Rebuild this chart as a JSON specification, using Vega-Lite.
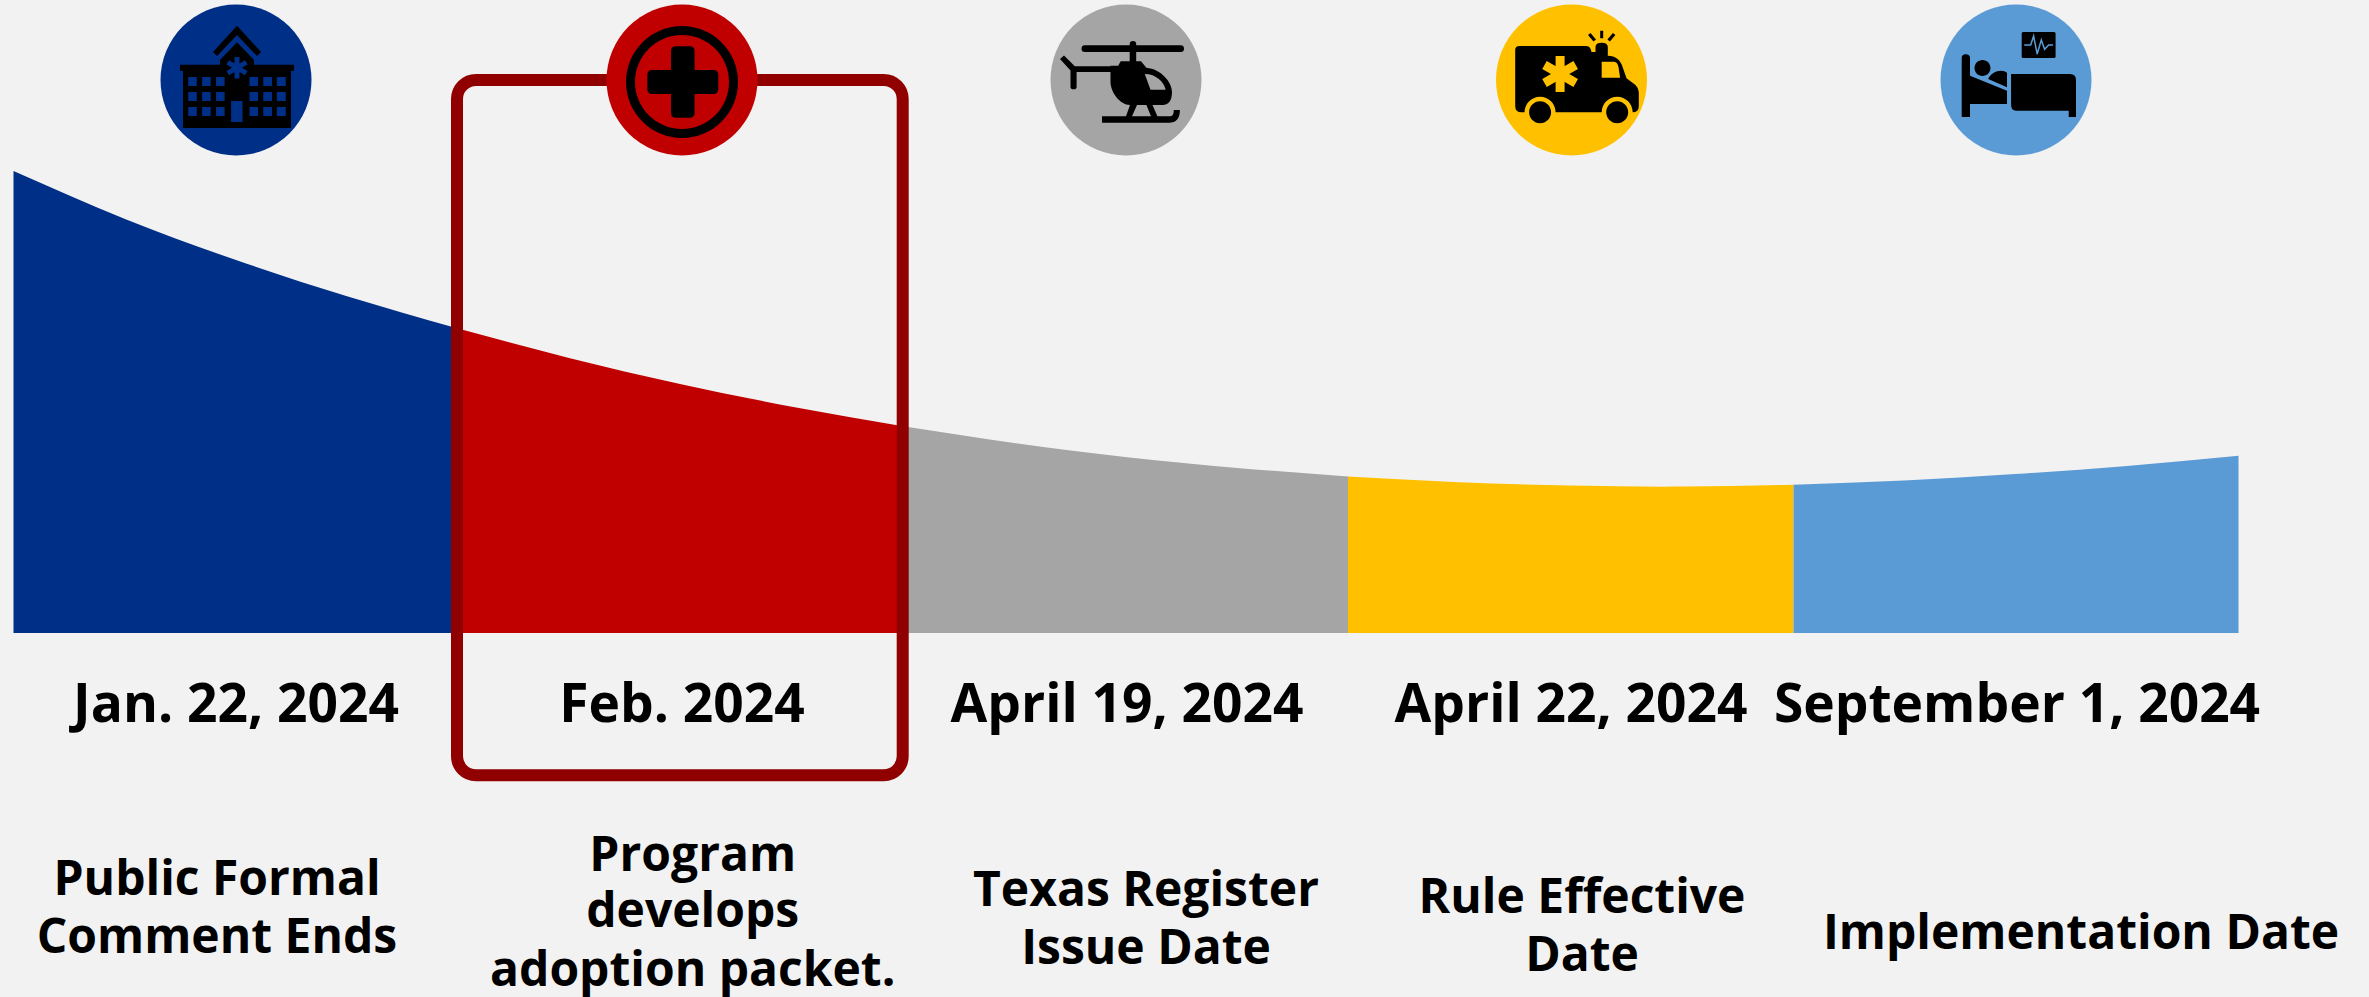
{
"$schema":"https://vega.github.io/schema/vega-lite/v6.json",
"width":2369,"height":997,"padding":0,"autosize":{"type":"none"},
"background":"#f2f2f2",
"view":{"stroke":null},
"config":{"axis":{"domain":false,"grid":false,"ticks":false,"labels":false,"title":null}},
"datasets":{
"curve":[
{"tone":"navy","px":13.5,"py":171},{"tone":"navy","px":125,"py":219},{"tone":"navy","px":236,"py":260},{"tone":"navy","px":347,"py":296.2},{"tone":"navy","px":458,"py":328.5},
{"tone":"red","px":458,"py":328.5},{"tone":"red","px":569,"py":358},{"tone":"red","px":680,"py":384},{"tone":"red","px":792,"py":406.7},{"tone":"red","px":903,"py":426.3},
{"tone":"grey","px":903,"py":426.3},{"tone":"grey","px":1014,"py":443},{"tone":"grey","px":1125,"py":456.9},{"tone":"grey","px":1237,"py":467.9},{"tone":"grey","px":1348,"py":476.5},
{"tone":"amber","px":1348,"py":476.5},{"tone":"amber","px":1459,"py":482.3},{"tone":"amber","px":1570,"py":485.6},{"tone":"amber","px":1682,"py":486.6},{"tone":"amber","px":1793.5,"py":484.7},
{"tone":"sky","px":1793.5,"py":484.7},{"tone":"sky","px":1904,"py":480.5},{"tone":"sky","px":2015,"py":474.1},{"tone":"sky","px":2127,"py":465.9},{"tone":"sky","px":2238.5,"py":455.7}
],
"badges":[
{"tone":"navy","px":236,"py":80},{"tone":"red","px":682,"py":80},{"tone":"grey","px":1126,"py":80},{"tone":"amber","px":1571.5,"py":80},{"tone":"sky","px":2016,"py":80}
],
"parts":[
{"part":"hBody","tone":"ink","px":236,"py":80},
{"part":"hChevron","tone":"ink","px":236,"py":80},
{"part":"hWindows","tone":"navy","px":236,"py":80},
{"part":"rRing","tone":"ink","px":682,"py":80},
{"part":"rInner","tone":"red","px":682,"py":80},
{"part":"rCross","tone":"ink","px":682,"py":80},
{"part":"cRotor","tone":"ink","px":1126,"py":80},
{"part":"cCab","tone":"ink","px":1126,"py":80},
{"part":"cTail","tone":"ink","px":1126,"py":80},
{"part":"cWindow","tone":"grey","px":1126,"py":80},
{"part":"cSkid","tone":"ink","px":1126,"py":80},
{"part":"aBody","tone":"ink","px":1571.5,"py":80},
{"part":"aArches","tone":"amber","px":1571.5,"py":80},
{"part":"aWheels","tone":"ink","px":1571.5,"py":80},
{"part":"aCross","tone":"amber","px":1571.5,"py":80},
{"part":"aWindow","tone":"amber","px":1571.5,"py":80},
{"part":"aRays","tone":"ink","px":1571.5,"py":80},
{"part":"bFrame","tone":"ink","px":2016,"py":80},
{"part":"bHead","tone":"ink","px":2016,"py":80},
{"part":"bBed","tone":"ink","px":2016,"py":80},
{"part":"bMonitor","tone":"ink","px":2016,"py":80}
],
"labels":[
{"label":"Jan. 22, 2024","px":236,"py":721.7,"kind":"date"},
{"label":"Feb. 2024","px":682,"py":721.7,"kind":"date"},
{"label":"April 19, 2024","px":1127,"py":721.7,"kind":"date"},
{"label":"April 22, 2024","px":1571,"py":721.7,"kind":"date"},
{"label":"September 1, 2024","px":2017,"py":721.7,"kind":"date"},
{"label":"Public Formal","px":217,"py":895,"kind":"note"},
{"label":"Comment Ends","px":217,"py":953,"kind":"note"},
{"label":"Program","px":692.7,"py":870.7,"kind":"note"},
{"label":"develops","px":692.7,"py":927,"kind":"note"},
{"label":"adoption packet.","px":692.7,"py":985.7,"kind":"note"},
{"label":"Texas Register","px":1146,"py":906,"kind":"note"},
{"label":"Issue Date","px":1146,"py":964,"kind":"note"},
{"label":"Rule Effective","px":1582,"py":912.7,"kind":"note"},
{"label":"Date","px":1582,"py":970.7,"kind":"note"},
{"label":"Implementation Date","px":2081,"py":949,"kind":"note"}
]
},
"encoding":{
"x":{"field":"px","type":"quantitative","scale":{"domain":[0,2369],"nice":false,"zero":false},"axis":null},
"y":{"field":"py","type":"quantitative","scale":{"domain":[997,0],"nice":false,"zero":false},"axis":null}
},
"layer":[
{"data":{"name":"curve"},
 "mark":{"type":"area","interpolate":"natural","opacity":1},
 "encoding":{"y2":{"datum":633},
  "color":{"field":"tone","type":"nominal","legend":null,"scale":{"domain":["navy","red","grey","amber","sky","ink"],"range":["#002f87","#c00000","#a5a5a5","#ffc000","#5b9bd5","#000000"]}}}},
{"data":{"values":[{"left":457,"right":902.7,"top":80,"bottom":775.3}]},
 "mark":{"type":"rect","filled":false,"stroke":"#900000","strokeWidth":12,"cornerRadius":19,"fill":null},
 "encoding":{"x":{"field":"left","type":"quantitative"},"x2":{"field":"right"},"y":{"field":"top","type":"quantitative"},"y2":{"field":"bottom"}}},
{"data":{"name":"badges"},
 "mark":{"type":"circle","size":22801,"opacity":1,"strokeWidth":0},
 "encoding":{"color":{"field":"tone","type":"nominal","legend":null,"scale":{"domain":["navy","red","grey","amber","sky","ink"],"range":["#002f87","#c00000","#a5a5a5","#ffc000","#5b9bd5","#000000"]}}}},
{"data":{"name":"parts"},
 "mark":{"type":"point","filled":true,"size":4,"opacity":1,"strokeWidth":0},
 "encoding":{
  "color":{"field":"tone","type":"nominal","legend":null,"scale":{"domain":["navy","red","grey","amber","sky","ink"],"range":["#002f87","#c00000","#a5a5a5","#ffc000","#5b9bd5","#000000"]}},
  "shape":{"field":"part","type":"nominal","legend":null,"scale":{
   "domain":["hBody","hChevron","hWindows","rRing","rInner","rCross","cRotor","cCab","cTail","cWindow","cSkid","aBody","aArches","aWheels","aCross","aWindow","aRays","bFrame","bHead","bBed","bMonitor"],
   "range":[
"M-16 -15.3V-20L1 -37.7L18 -20V-15.3H58V-9.3H55V48H-53V-9.3H-56V-15.3Z",
"M1 -54.3L25 -28L21 -24L1 -45L-19 -24L-23 -28Z",
"M-47.8 -3H-39.2V6H-47.8ZM-33.9 -3H-25.3V6H-33.9ZM-20 -3H-11.4V6H-20ZM13.5 -3H22V6H13.5ZM27.3 -3H36V6H27.3ZM40.8 -3H49.8V6H40.8ZM-47.8 12H-39.2V21H-47.8ZM-33.9 12H-25.3V21H-33.9ZM-20 12H-11.4V21H-20ZM13.5 12H22V21H13.5ZM27.3 12H36V21H27.3ZM40.8 12H49.8V21H40.8ZM-47.8 27H-39.2V36H-47.8ZM-33.9 27H-25.3V36H-33.9ZM-20 27H-11.4V36H-20ZM13.5 27H22V36H13.5ZM27.3 27H36V36H27.3ZM40.8 27H49.8V36H40.8ZM-4.9 21H6.5V42H-4.9ZM-1.5 -23H3.5V-1.6H-1.5ZM-9.55 -15.48L-7.05 -19.82L11.55 -9.12L9.05 -4.78ZM-9.55 -9.12L9.05 -19.82L11.55 -15.48L-7.05 -4.78Z",
"M-56 2A56 56 0 1 1 56 2A56 56 0 1 1 -56 2Z",
"M-47 2A47 47 0 1 1 47 2A47 47 0 1 1 -47 2Z",
"M-6 -33.7H7.6Q12.6 -33.7 12.6 -28.7V-10H31.3Q36.3 -10 36.3 -5V9Q36.3 14 31.3 14H12.6V32.7Q12.6 37.7 7.6 37.7H-6Q-11 37.7 -11 32.7V14H-29.7Q-34.7 14 -34.7 9V-5Q-34.7 -10 -29.7 -10H-11V-28.7Q-11 -33.7 -6 -33.7Z",
"M-41 -34.7H54.5Q58 -34.7 58 -31.3Q58 -28 54.5 -28H-41Q-44.5 -28 -44.5 -31.3Q-44.5 -34.7 -41 -34.7ZM3.7 -18V-36Q3.7 -39 7 -39Q10.2 -39 10.2 -36V-18Z",
"M-5.3 -18.7H15L20.4 -12.3C35 -11 46 2 46 12C46 20 43 25 36.7 25H4C-6 25 -15.5 12 -15.5 2V-14.3H-7.8Z",
"M-52 -13.7H-8V-8H-52ZM-66 -21L-62 -24.5L-49.4 -12V7Q-49.4 9.3 -52.4 9.3Q-55.5 9.3 -55.5 7V-9.5Z",
"M18.8 -6L24.5 9.7H39.6C38 2 30 -6 18.8 -6Z",
"M-24 36.3H0L4 25H11L6 36.3H25L20.4 25H26.5L31.4 36.3H44Q47.8 36.3 47.8 30H53.9Q53.9 42.7 42.9 42.7H-24Z",
"M-52 -34H15Q19 -34 20 -28H24V-33Q24 -37.3 30 -37.3Q36.3 -37.3 36.3 -33V-24.3C44 -24.3 49 -20 51 -13.3L55 -1.7L64 5Q67.3 8.3 67.3 12V26Q67.3 32.3 61 32.3H-50Q-56.3 32.3 -56.3 26V-30Q-56.3 -34 -52 -34Z",
"M-46.9 32.3A15.5 15.5 0 1 1 -15.9 32.3A15.5 15.5 0 1 1 -46.9 32.3ZM30.2 32.3A15.5 15.5 0 1 1 61.2 32.3A15.5 15.5 0 1 1 30.2 32.3Z",
"M-42.4 32.3A11 11 0 1 1 -20.4 32.3A11 11 0 1 1 -42.4 32.3ZM34.7 32.3A11 11 0 1 1 56.7 32.3A11 11 0 1 1 34.7 32.3Z",
"M-15.9 -24H-6.9V12H-15.9ZM-29.25 -11.1L-24.75 -18.9L6.45 -0.9L1.95 6.9ZM-29.25 -0.9L1.95 -18.9L6.45 -11.1L-24.75 6.9Z",
"M30.2 -18.3H42Q46 -18.3 47 -13L48.6 -2.3H30.2Z",
"M28.7 -49.3H31.7V-41.7H28.7ZM16.5 -45L19 -47L24.5 -40.5L22 -38.5ZM43.9 -45L41.4 -47L35.9 -40.5L38.4 -38.5Z",
"M-54.3 -22Q-54.3 -25.7 -50.2 -25.7Q-46 -25.7 -46 -22V-4.3L-9 10.7V24H-46V37H-54.3Z",
"M-41.5 -12A8 8 0 1 1 -25.5 -12A8 8 0 1 1 -41.5 -12ZM-27.8 -1C-26 -6 -20 -9.3 -15 -9.3Q-11 -9.3 -9 -7.3V7.3Z",
"M-4.9 -6H54Q60 -6 60 0V37H52.7V30.7H0Q-4.9 30.7 -4.9 25Z",
"M7 -48H38Q39.6 -48 39.6 -46.5V-23.5Q39.6 -22 38 -22H7Q5.7 -22 5.7 -23.5V-46.5Q5.7 -48 7 -48Z"
]}}}},
{"data":{"values":[{"px":2016,"py":80}]},
 "mark":{"type":"point","shape":"M8.2 -35H14.7L17.6 -44L21.2 -26L25.3 -40L28.6 -30.7L32.7 -35H37.1","size":4,"filled":false,"fill":null,"opacity":1,"stroke":"#5b9bd5","strokeWidth":1.5}},
{"data":{"name":"labels"},"transform":[{"filter":"datum.kind==='date'"}],
 "mark":{"type":"text","font":"Open Sans","fontWeight":"bold","fontSize":53.3,"align":"center","baseline":"alphabetic","color":"#000000"},
 "encoding":{"text":{"field":"label","type":"nominal"}}},
{"data":{"name":"labels"},"transform":[{"filter":"datum.kind==='note'"}],
 "mark":{"type":"text","font":"Open Sans","fontWeight":"bold","fontSize":48,"align":"center","baseline":"alphabetic","color":"#000000"},
 "encoding":{"text":{"field":"label","type":"nominal"}}}
]
}
